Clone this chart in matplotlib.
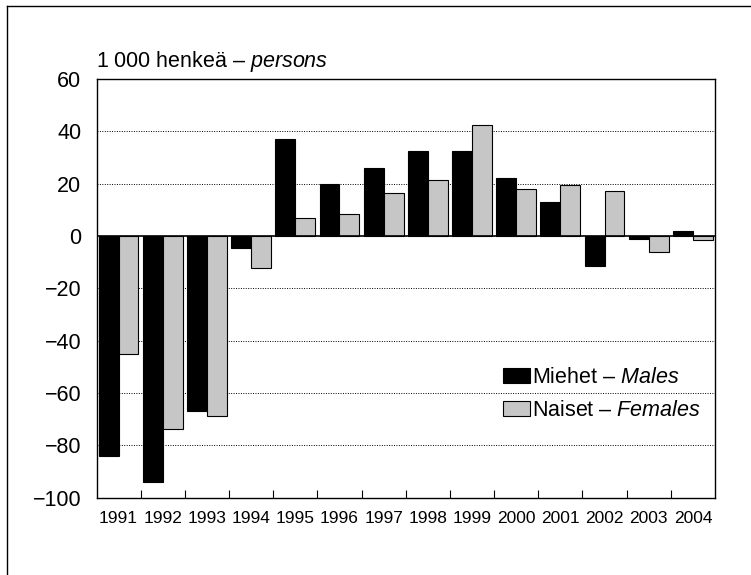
import matplotlib
matplotlib.use("Agg")
import matplotlib.pyplot as plt
import numpy as np

years = ["1991", "1992", "1993", "1994", "1995", "1996", "1997",
         "1998", "1999", "2000", "2001", "2002", "2003", "2004"]
males = [-84, -94, -67, -4.5, 37, 20, 26, 32.3, 32.5, 22, 12.8, -11.5, -1.3, 1.9]
females = [-45, -74, -69, -12.4, 7, 8.2, 16.3, 21.2, 42.3, 18, 19.6, 17, -6, -1.4]
yticks = [-100, -80, -60, -40, -20, 0, 20, 40, 60]
label_m = "Miehet – $\\mathit{Males}$"
label_f = "Naiset – $\\mathit{Females}$"

plt.rcParams['font.family'] = ['Liberation Sans', 'DejaVu Sans']
plt.rcParams['mathtext.fontset'] = 'custom'
plt.rcParams['mathtext.rm'] = 'Liberation Sans'
plt.rcParams['mathtext.it'] = 'Liberation Sans:italic'

W, H = 751, 575
fig = plt.figure(figsize=(W / 100, H / 100), dpi=100)

# outer frame (top and left lines)
fig.add_artist(plt.Line2D([7 / W, 7 / W], [0, 1 - 6 / H], transform=fig.transFigure,
                          color='black', lw=1.0))
fig.add_artist(plt.Line2D([7 / W, 1], [1 - 6 / H, 1 - 6 / H], transform=fig.transFigure,
                          color='black', lw=1.0))

left, right, top, bottom = 96.5 / W, 715 / W, 1 - 79 / H, 1 - 497.5 / H
ax = fig.add_axes([left, bottom, right - left, top - bottom])

x = np.arange(len(years))
w = 0.45
ax.bar(x - w / 2, males, width=w, color='black', edgecolor='black', lw=0.8,
       label=label_m, zorder=3)
ax.bar(x + w / 2, females, width=w, color='#c6c6c6', edgecolor='black', lw=0.8,
       label=label_f, zorder=3)

ax.set_xlim(-0.5, len(years) - 0.5)
ax.set_ylim(-100, 60)
ax.set_yticks(yticks)
ax.set_yticklabels([str(v).replace('-', '\u2212') for v in yticks], fontsize=15.5)
ax.tick_params(axis='y', length=0, pad=11)
ax.set_xticks(x)
ax.set_xticklabels(years, fontsize=12.5)
ax.tick_params(axis='x', length=0, pad=10)
ax.set_xticks(np.arange(0.5, len(years) - 1, 1), minor=True)
ax.tick_params(axis='x', which='minor', direction='in', length=6, width=0.8)

for v in yticks[1:-1]:
    if v == 0:
        ax.axhline(0, color='black', lw=1.2, zorder=4)
    else:
        ax.axhline(v, color='black', lw=0.7, linestyle=(0, (1, 1.5)), zorder=1)

for s in ax.spines.values():
    s.set_linewidth(1.0)

leg = ax.legend(loc='center left', bbox_to_anchor=(503 / W, 1 - 394 / H),
                bbox_transform=fig.transFigure, frameon=False, fontsize=15.5,
                handlelength=1.25, handleheight=0.7, handletextpad=0.1,
                labelspacing=0.55, borderpad=0, borderaxespad=0)

fig.text(96 / W, 1 - 62 / H, "1 000 henkeä – $\\mathit{persons}$", fontsize=15.5,
         ha='left', va='center')

fig.savefig("out.png", dpi=100)
